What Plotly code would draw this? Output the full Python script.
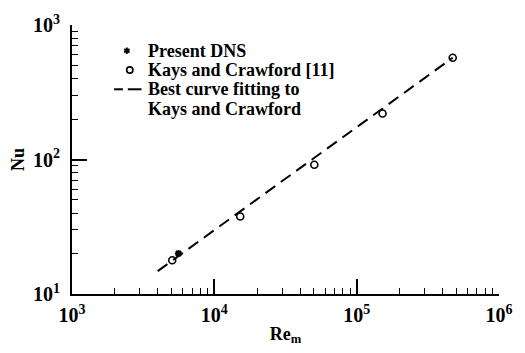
import plotly.graph_objects as go

# Kays and Crawford correlation points
kc_re = [5060, 15200, 50400, 152000, 473000]
kc_nu = [17.8, 37.7, 91.4, 220, 571]

# Present DNS result
dns_re = [5600]
dns_nu = [20.0]

# Best-fit line through the Kays and Crawford points (end points)
fit_re = [4000, 473000]
fit_nu = [14.8, 571]

# Axis decades and their labels
x_decades = [1e3, 1e4, 1e5, 1e6]
x_labels = ["<b>10<sup>3</sup></b>", "<b>10<sup>4</sup></b>",
            "<b>10<sup>5</sup></b>", "<b>10<sup>6</sup></b>"]
y_decades = [1e1, 1e2, 1e3]
y_labels = ["<b>10<sup>1</sup></b>", "<b>10<sup>2</sup></b>", "<b>10<sup>3</sup></b>"]
minor_digits = [2, 3, 4, 5, 6, 7, 8, 9]

legend_labels = ["Present DNS", "Kays and Crawford [11]",
                 "Best curve fitting to", "Kays and Crawford"]

font_family = "Liberation Serif"


def all_ticks(decades, labels):
    """Tick positions for every digit of each decade; only decades get a label."""
    vals, texts = [], []
    for i, d in enumerate(decades):
        vals.append(d)
        texts.append(labels[i])
        if i < len(decades) - 1:
            for m in minor_digits:
                vals.append(d * m)
                texts.append("")
    return vals, texts


fig = go.Figure()

# fitted line drawn on the overlay axes (same ranges) so they are rendered
fig.add_trace(go.Scatter(
    x=fit_re, y=fit_nu, mode="lines", xaxis="x2", yaxis="y2",
    line=dict(color="black", width=2, dash="12px,7px"),
    showlegend=False,
))
fig.add_trace(go.Scatter(
    x=kc_re, y=kc_nu, mode="markers",
    marker=dict(symbol="circle-open", size=7, color="black", line=dict(width=1.6)),
    showlegend=False,
))
fig.add_trace(go.Scatter(
    x=dns_re, y=dns_nu, mode="markers",
    marker=dict(symbol="asterisk-open", size=6, color="black",
                line=dict(width=2, color="black")),
    showlegend=False,
))

xv, xt = all_ticks(x_decades, x_labels)
yv, yt = all_ticks(y_decades, y_labels)

tick_font = dict(family=font_family, size=20, color="black", weight="bold")

base = dict(type="log", showgrid=False, zeroline=False)

fig.update_layout(
    width=525, height=353,
    margin=dict(l=72, r=17, t=24, b=57),
    paper_bgcolor="white",
    plot_bgcolor="white",
    font=dict(family=font_family, color="black"),
    showlegend=False,
    xaxis=dict(base, range=[3, 6], showline=True, linecolor="black", linewidth=2,
               tickmode="array", tickvals=xv, ticktext=xt,
               ticks="inside", ticklen=6, tickwidth=1.4, tickcolor="black",
               tickfont=tick_font, ticklabelstandoff=2,
               title=dict(text="<b>Re<sub>m</sub></b>", font=dict(size=18), standoff=2)),
    yaxis=dict(base, range=[1, 3], showline=True, linecolor="black", linewidth=2,
               tickmode="array", tickvals=yv, ticktext=yt,
               ticks="inside", ticklen=6, tickwidth=1.4, tickcolor="black",
               tickfont=tick_font, ticklabelstandoff=6,
               title=dict(text="<b>Nu</b>", font=dict(size=18), standoff=4)),
    # overlay axes carrying the long decade ticks
    xaxis2=dict(base, range=[3, 6], overlaying="x", anchor="y", side="bottom",
                showline=False, tickmode="array", tickvals=x_decades,
                ticks="inside", ticklen=15, tickwidth=1.6, tickcolor="black",
                showticklabels=False),
    yaxis2=dict(base, range=[1, 3], overlaying="y", anchor="x", side="left",
                showline=False, tickmode="array", tickvals=y_decades,
                ticks="inside", ticklen=15, tickwidth=1.6, tickcolor="black",
                showticklabels=False),
)

# Hand-built key in the upper left of the plot area
px_x = lambda p: (p - 72) / 436.0
px_y = lambda p: (296 - p) / 272.0
row_y = [50, 69.5, 89, 108.5]

for text, yy in zip(legend_labels, row_y):
    fig.add_annotation(
        x=px_x(148), y=px_y(yy), xref="paper", yref="paper",
        xanchor="left", yanchor="middle", showarrow=False,
        text="<b>" + text + "</b>",
        font=dict(family=font_family, size=18, color="black"),
    )

# asterisk symbol for the DNS entry
cx, cy, r = 128, row_y[0], 3.2
for dx, dy in [(0, 1), (0.866, 0.5), (0.866, -0.5)]:
    fig.add_shape(type="line", xref="paper", yref="paper",
                  x0=px_x(cx - dx * r), y0=px_y(cy - dy * r),
                  x1=px_x(cx + dx * r), y1=px_y(cy + dy * r),
                  line=dict(color="black", width=2))

# open circle for the Kays and Crawford entry
ccx, ccy, cr = 131, row_y[1], 3.2
fig.add_shape(type="circle", xref="paper", yref="paper",
              x0=px_x(ccx - cr), x1=px_x(ccx + cr),
              y0=px_y(ccy + cr), y1=px_y(ccy - cr),
              line=dict(color="black", width=1.6))

# dashed line sample for the fitted curve
for a, b in [(115, 124), (129, 143)]:
    fig.add_shape(type="line", xref="paper", yref="paper",
                  x0=px_x(a), x1=px_x(b), y0=px_y(row_y[2]), y1=px_y(row_y[2]),
                  line=dict(color="black", width=2))

fig.write_html("out.html")
